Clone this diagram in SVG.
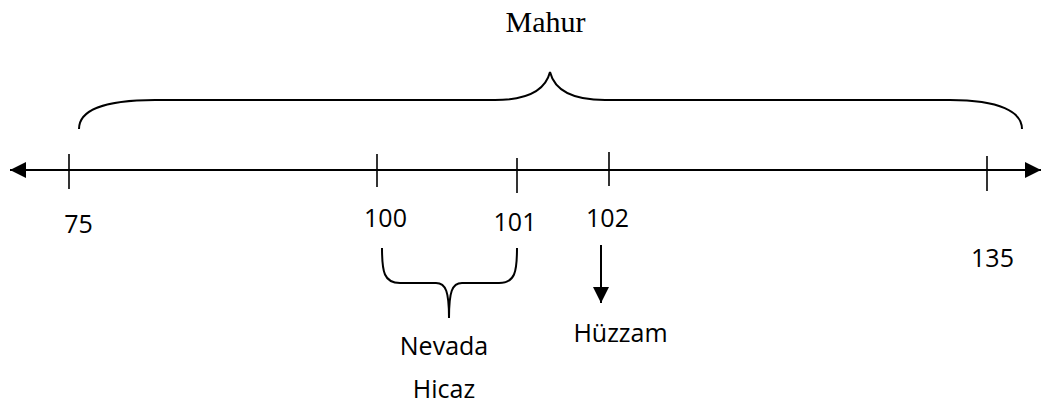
<svg xmlns="http://www.w3.org/2000/svg" width="1048" height="404" viewBox="0 0 1048 404">
  <style>
    .line { fill: none; stroke: #000; stroke-width: 2; }
    .tick { fill: none; stroke: #000; stroke-width: 1.6; }
    .lbl { font-family: "Open Sans", "Noto Sans", sans-serif; font-size: 25px; fill: #000; text-anchor: middle; }
    .title { font-family: "Liberation Serif", "Times New Roman", serif; font-size: 30px; fill: #000; text-anchor: middle; }
  </style>
  <defs>
    <marker id="tri" viewBox="0 0 10 10" refX="10" refY="5" markerWidth="16" markerHeight="16" markerUnits="userSpaceOnUse" orient="auto-start-reverse">
      <path d="M0,0 L10,5 L0,10 Z" fill="#000"/>
    </marker>
  </defs>
  <rect width="1048" height="404" fill="#fff"/>

  <!-- Number line with its tick marks -->
  <g id="connectors">
    <line class="line" x1="10" y1="170" x2="1041" y2="170" marker-start="url(#tri)" marker-end="url(#tri)"/>
    <line class="line" x1="601" y1="245" x2="601" y2="303" marker-end="url(#tri)"/>
  </g>

  <g id="ticks">
    <line class="tick" x1="69" y1="154" x2="69" y2="189"/>
    <line class="tick" x1="377" y1="154" x2="377" y2="187"/>
    <line class="tick" x1="517" y1="158" x2="517" y2="193"/>
    <line class="tick" x1="609" y1="152" x2="609" y2="186"/>
    <line class="tick" x1="987" y1="156" x2="987" y2="191"/>
  </g>

  <!-- Large brace spanning the whole range -->
  <g id="mahur">
    <path class="line" d="M79,129 C79,112 100,100 155,100 L495,100 C525,100 545,92 550,72 C555,92 575,100 605,100 L950,100 C1000,100 1022,112 1022,129"/>
    <text class="title" x="545.5" y="32">Mahur</text>
  </g>

  <!-- Small brace between 100 and 101 -->
  <g id="nevada-hicaz">
    <path class="line" d="M382,248 C382,272 384,283 400,283 L436,283 C446,283 449,292 449,318"/>
    <path class="line" d="M517,248 C517,272 515,283 499,283 L462,283 C452,283 449,292 449,318"/>
    <text class="lbl" x="444" y="355">Nevada</text>
    <text class="lbl" x="444" y="398">Hicaz</text>
  </g>

  <g id="huzzam">
    <text class="lbl" x="620.5" y="342">Hüzzam</text>
  </g>

  <g id="labels">
    <text class="lbl" x="78.5" y="233">75</text>
    <text class="lbl" x="385.5" y="227">100</text>
    <text class="lbl" x="515" y="231">101</text>
    <text class="lbl" x="607.5" y="227">102</text>
    <text class="lbl" x="992.5" y="267">135</text>
  </g>
</svg>
